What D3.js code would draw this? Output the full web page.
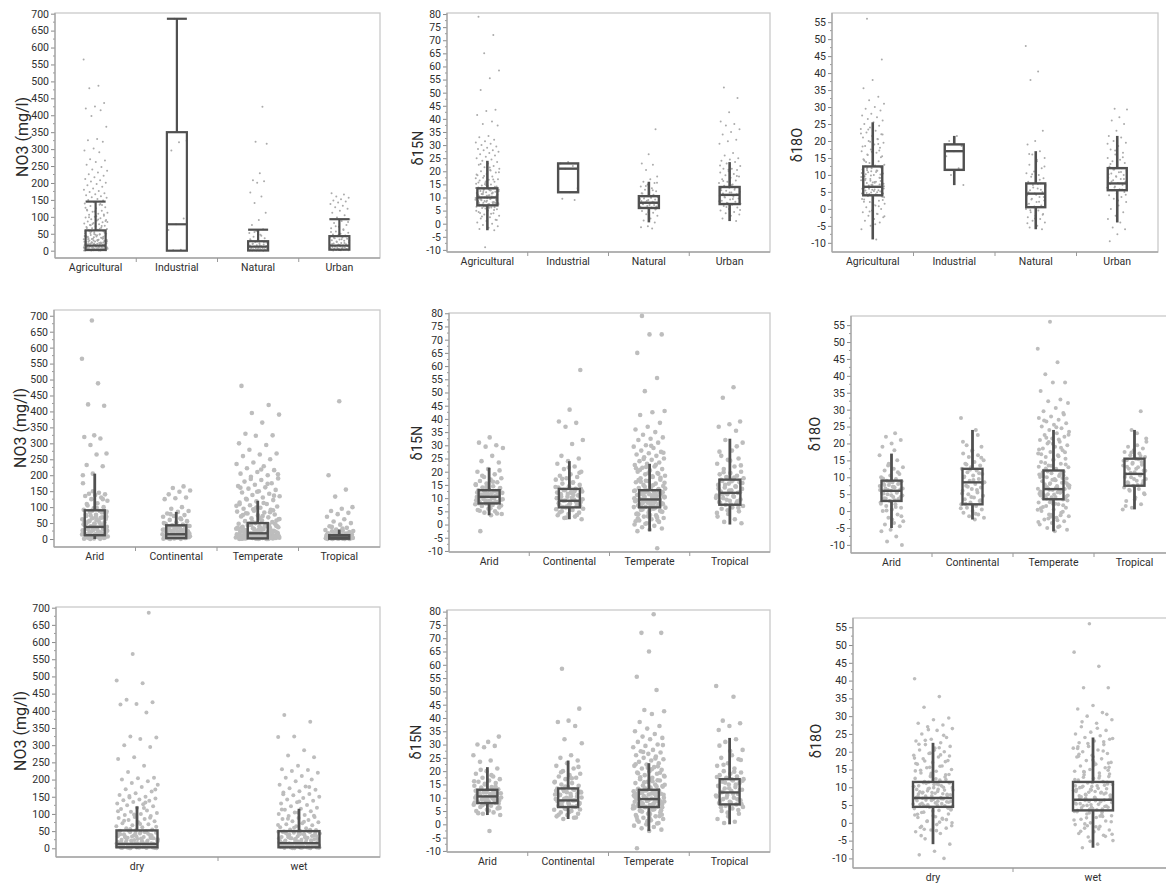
<!DOCTYPE html>
<html>
<head>
<meta charset="utf-8">
<script src="https://cdn.jsdelivr.net/npm/d3@7"></script>
<style>
  body { margin: 0; background: #fff; }
  svg { display: block; }
  text { font-family: Roboto, "Noto Sans", Arial, sans-serif; }
</style>
</head>
<body>
<svg id="chart" width="1166" height="883"></svg>
<script>
// ---- categories ----
const landUse = ["Agricultural", "Industrial", "Natural", "Urban"];
const climate = ["Arid", "Continental", "Temperate", "Tropical"];
const season = ["dry", "wet"];

// ---- y tick labels ----
const no3Ticks = [0, 50, 100, 150, 200, 250, 300, 350, 400, 450, 500, 550, 600, 650, 700];
const d15Ticks = [-10, -5, 0, 5, 10, 15, 20, 25, 30, 35, 40, 45, 50, 55, 60, 65, 70, 75, 80];
const d18Ticks = [-10, -5, 0, 5, 10, 15, 20, 25, 30, 35, 40, 45, 50, 55];

// ---- box statistics: [low whisker, Q1, median, Q3, high whisker] ----
const no3LandBox = [[0, 2, 15, 60, 145], [0, 0, 78, 350, 685], [0, 0.5, 12, 28, 62], [0, 3, 15, 43, 93]];
const d15LandBox = [[-2.5, 7, 10, 13.5, 24], [12, 12, 21, 23, 23], [0.5, 6, 8, 10.5, 16], [1, 7.5, 11, 14, 23.5]];
const d18LandBox = [[-9, 4, 6.5, 12.5, 25.5], [7, 11.5, 17, 19, 21.5], [-6, 0.5, 4.5, 7.5, 17], [-4, 5.5, 7.5, 12, 21.5]];
const no3ClimBox = [[0, 12, 38, 90, 205], [0, 3, 15, 43, 85], [0, 2, 18, 50, 120], [0, 1, 5, 12, 30]];
const d15ClimBox = [[3.5, 8, 10.5, 13, 21.5], [2, 6.5, 9, 13.5, 24], [-2.5, 6.5, 9.5, 13, 23], [0, 7.5, 12, 17, 32.5]];
const d18ClimBox = [[-5, 3, 6, 9, 17], [-2.5, 2, 8.5, 12.5, 24], [-6, 3.5, 6.5, 12, 24], [0.5, 7.5, 11, 15.5, 24]];
const no3SeasBox = [[0, 3, 13, 52, 122], [0, 3, 15, 50, 115]];
const d18SeasBox = [[-6, 4.5, 7, 11.5, 22.5], [-7, 3.5, 6.5, 11.5, 24]];

// ---- observations: NO3 by land use ----
const no3Agri = [565,487,480,436,426,420,415,398,366,330,326,322,302,296,291,270,266,262,254,247,240,236,231,226,221,217,212,208,204,201,197,193,189,184,180,176,173,170,167,164,161,158,156,153,150,148,
143,139,136,132,128,125,121,118,115,112,109,106,103,100,98,96,93,91,89,86,84,82,80,78,76,74,72,70,68,66,64,62,
59.6,57.2,54.3,51.5,48.8,46.2,43.9,41.6,39.4,37.5,35.6,33.8,32.1,30.4,28.9,27.2,25.8,24.5,23.1,21.8,20.6,19.5,18.4,17.2,16.3,15.1,14.2,13.5,12.7,11.8,11.1,10.2,9.4,8.6,7.9,7.1,6.5,5.8,5.2,4.4,3.9,3.3,2.6,2.1,1.5,0.8,0.2,
58.1,52.8,47.1,42.5,38.3,34.7,31.9,29.6,26.7,24.2,21.4,19.1,16.9,14.8,13.1,11.5,9.8,8.2,6.9,5.5,4.8,3.6,2.8,1.9,1.2,0.5,
56.4,50.2,45.5,40.8,35.1,29.9,26.1,22.7,20.2,17.8,14.5,12.3,10.8,9.1,7.5,5.9,4.1,3.1,1.7,0.9,
1.3,2.4,3.7,4.9,6.2,7.4,8.8,10.5,12.1,13.9,15.6,17.4,19.8,22.3,24.9,27.8,30.9,33.2,36.4,39.9,43.2,47.6,51.9,55.1,61,67,73,79,85,92,99,107,116,127,138,
0.4,1.1,2.2,3.4,4.6,6.1,7.7,9.3,11.3,13.3,15.9,18.7,21.1,23.8,27.5,31.2,36.9,41.2,49.5,57.9,65,75,88,102,119,135];
const no3Ind = [685,325,320,296,95,78,61,3,1];
const no3Nat = [425,322,316,229,208,205,201,172,160,141,112,91,76,63,58,52,47,41,37,33,30,28,26,24,22,20,18,16,15,13,12,11,10,9,8,7,6,5,4.5,4,3,2.5,2,1.5,1,0.5,0.3,0,
0.2,0.8,1.6,2.4,3.5,5.5,7.5,9.5,11.5,14,17,21,25,27,34,44,55];
const no3Urb = [170,166,160,156,152,148,145,142,138,133,128,124,118,112,105,98,93,88,82,76,71,66,61,57,53,50,48,45,43,41,39,37,35,33,31,29,27,25,23,21,19,18,16,15,14,13,12,11,10,9,8,7,6,5,4,3,2.5,2,1.5,1,0.5,
3.5,5.5,7.5,9.5,11.5,13.5,16.5,19.5,22.5,26,30,34,38,42,47,55,63,72,85];

// ---- observations: d15N by land use ----
const d15Agri = [79,72,65,58.5,55.5,51,43.5,43,41.5,39,38,37.5,33.5,33,32,31.5,31,30.5,30,29.5,29,28.5,28,28,27.5,27,26.5,26,25.5,25,24.5,24,
23.5,23,22.5,22,21.5,21,20.5,20,19.5,19,18.5,18,17.5,17,16.8,16.5,16,15.5,15.2,15,14.6,14.2,14,13.8,13.5,13.2,13,12.8,12.5,12.2,12,11.8,11.5,11.2,11,10.8,10.5,10.2,10,9.8,9.5,9.2,9,8.8,8.5,8.2,8,7.8,7.5,7.2,7,6.8,6.5,6.2,6,5.5,5,4.5,4,3.5,3,2.5,2,1.5,1,0.5,0,-0.5,-1,-1.5,-2,-2.5,-9,
13.6,12.7,11.3,10.6,9.7,8.6,7.6,6.6,12.4,10.9,9.3,8.1,14.8,11.7,9.9,7.3,
7.1,7.4,7.9,8.3,8.7,9.1,9.4,9.9,10.3,10.7,11.1,11.6,12.1,12.6,13.1,13.4,6.3,5.8,4.9,3.8,2.7,1.4,14.5,15.7,16.9,18.2,19.6,21.4,22.8,
7.6,8.4,9.6,10.4,11.4,12.3,13.3,6.9,5.2,15.1,17.3,20.3,8.9,9.2,10.1,10.9,11.9,12.9,7.3,6.1,4.1,14.1,16.1,18.8];
const d15Ind = [23.5,23,22,21,13.5,12,9.5,9];
const d15Nat = [36,26.5,23,22.5,20.5,18,17,16,15.5,15,14.2,13.5,13,12.4,12,11.5,11,10.6,10.2,10,9.6,9.2,9,8.7,8.4,8.1,8,7.7,7.4,7.1,6.8,6.5,6.2,6,5.6,5.2,4.8,4.2,3.6,3,2,1.2,0.5,-1,-1.4,-1.8,
6.1,6.6,7.1,7.6,8.2,8.8,9.4,9.9,10.4,5.4,4.4,11.6,12.8,14.4,15.6];
const d15Urb = [52,48,42.5,39,38,37.5,36,35,34,32,31.5,30.5,27,26,25,24.5,24,23.5,23,22,21,21,20.5,20,19.5,19,18.5,18,17.5,17,16.5,16,15.5,15,14.5,14,13.7,13.4,13,12.6,12.2,11.9,11.5,11.2,11,10.7,10.3,10,9.6,9.2,8.8,8.4,8,7.6,7.2,6.8,6.2,5.6,5,4.5,4,3.5,3,2,1,
7.8,8.6,9.4,10.2,11.1,11.9,12.8,13.6,6.4,5.2,14.8,16.3,18.2,20.6,22.2];

// ---- observations: d18O by land use ----
const d18Agri = [56,44,38,35.5,33,32,31,30,29.5,29,28,27.5,27,26.5,26,25.5,25,24.5,24,23.5,23,22.5,22,21.5,21,20.5,20,19.5,19,18.5,18,17.5,17,16.5,16,15.5,15,14.5,14,13.5,13,12.8,12.5,12.2,12,11.6,11.2,10.8,10.4,10,9.6,9.2,8.8,8.4,8,7.6,7.3,7,6.8,6.5,6.2,6,5.7,5.4,5.1,4.8,4.5,4.2,4,3.6,3.2,2.8,2.4,2,1.5,1,0.5,0,-0.5,-1,-1.5,-2,-2.5,-3,-3.5,-4,-5,-6,-9,
11.4,9.4,7.8,6.6,5.5,4.4,3.4,12.6,10.2,8.2,7.1,5.9,4.9,3.8,2.6,1.2,14.2,17.2,19.8,22.2,
4.3,4.7,5.2,5.6,6.1,6.4,6.9,7.4,7.9,8.5,9.1,9.8,10.6,11.3,12.1,12.4,3.2,2.1,0.8,-0.8,-2.2,-4.5,13.8,15.2,16.8,18.4,20.6,23.4,
4.5,5.3,6.3,7.2,8.3,9.4,10.9,11.8,3.7,1.9,14.6,19.1,5.9,6.7,7.7,8.9,10.1,11.1,2.9,-1.4,15.9,21.9];
const d18Ind = [21.5,20,18.5,17,15.5,12,10,7];
const d18Nat = [48,40.5,38,23,20,19,17,16,15,14,13,12,11,10.5,10,9.5,9,8.5,8,7.5,7,6.5,6,5.5,5,4.5,4,3.5,3,2.5,2,1.5,1,0.5,0,-0.5,-1,-1.5,-2,-2.5,-3,-3.5,-4,-5,-5.5,-6,
0.7,1.4,2.1,2.8,3.5,4.2,4.9,5.6,6.3,7,7.3,-0.4,-1.7,-2.8,-4.2,8.6,10.2,12.5,14.5,16.2];
const d18Urb = [29.5,29.3,27,26,25,23,21.5,21,20,19.5,18.5,17.5,16.5,16,15,14.5,14,13.5,13,12.5,12,11.6,11.2,10.8,10.4,10,9.6,9.2,8.8,8.4,8,7.6,7.3,7,6.6,6.2,5.8,5.5,5,4.5,4,3.5,3,2,1,0,-1,-2,-3,-4,-5.5,-6,-7.5,-9.5,
5.7,6.3,6.9,7.5,8.1,8.8,9.5,10.2,10.9,11.6,4.2,2.5,13.2,15.2,17.2,19.2];

// ---- observations: NO3 by climate ----
const no3Arid = [685,565,488,422,418,325,320,315,295,268,265,232,228,205,200,145,142,140,138,135,130,125,120,112,105,100,96,92,88,85,80,76,72,68,65,62,58,55,52,48,45,42,40,38,36,34,31,28,25,22,20,18,15,13,12,10,8,6,4,3,2,1,0.5,0,70,60,50,44,35,27,17,9,5,
13,16,19,23,26,29,33,37,41,46,51,57,63,69,76,83,89,14.5,21,31,39,48,55,66,74,86,98,110,125,150,175];
const no3Cont = [165,160,152,148,140,130,128,125,100,95,88,85,80,75,72,70,65,60,56,52,48,45,43,41,39,37,35,32,30,28,26,24,22,20,18,16,15,14,12,11,10,9,8,7,6,5,4,3,2,1,0.5,0,40,34,25,19,13,8.5,4.5,2.5,
3.5,5.5,7.5,9.5,11.5,13.5,16.5,19.5,22.5,25.5,29,33,38,42,4.2,6.2,10.2,14.2,17.2,21.2,27.2,31.2,36.2,50,62,78];
const no3Temp = [480,420,395,390,365,330,325,324,300,295,280,268,265,260,250,240,235,228,222,216,210,205,200,195,190,185,180,175,170,166,162,158,154,150,146,142,138,134,130,126,122,118,114,110,106,102,98,95,92,89,86,83,80,77,74,71,68,65,62,59,56,53,50,48,46,44,42,40,38,36,34,32,30,28,26,24,22,20,18,17,16,15,14,13,12,11,10,9,8,7,6,5,4,3,2,1.5,1,0.5,0,
47,41,35,29,23,19,14.5,10.5,7.5,4.5,2.5,1.2,0.3,44,37,31,25,21,16.5,12.5,9.5,6.5,3.5,0.8,
1.1,2.3,3.6,4.9,6.2,7.8,9.2,10.9,12.8,14.7,16.9,19.3,21.8,24.6,27.7,31.1,34.9,39.2,43.8,48.1,
0.6,1.8,3.1,5.6,8.6,11.8,15.4,20.4,25.9,32.6,40.4,49.2,58,66,75,84,93,104,113,124,136,148,161,173,188,203,218,
2.8,4.2,7.1,10.2,13.6,17.8,22.9,28.8,36.1,45.3,55,63,72,81,90,99,109];
const no3Trop = [432,200,155,133,100,95,88,82,78,70,62,55,50,45,40,35,30,28,26,24,22,20,18,16,15,14,13,12,11,10,9,8,7,6,5,4.5,4,3.5,3,2.5,2,1.5,1,0.5,0,11.5,9.5,7.5,6.5,5.5,3.2,2.2,1.2,0.3,
0.6,1.6,2.6,3.6,4.6,5.6,6.6,7.6,8.6,10.6,12.5,0.9,1.9,2.9,3.9,4.9,17,21,25,33,38];

// ---- observations: d15N by climate ----
const d15Arid = [33,31,30,29.5,29,26,24,23.5,21,20,19,18,17.5,17,16.5,16,15.5,15,14.5,14,13.5,13.2,13,12.7,12.4,12,11.7,11.4,11,10.7,10.4,10,9.7,9.4,9,8.7,8.4,8,7.7,7.4,7,6.5,6,5.5,5,4.5,4,3.5,-2.5,12.2,10.8,9.2,8.2,11.2,13.8,7.8,
8.1,8.6,9.1,9.6,10.1,10.6,11.1,11.6,12.1,12.6,12.9,7.2,6.2,5.2,4.2,14.2,15.2,16.2,18.5,20.5,8.9,9.9,10.9,11.9];
const d15Cont = [58.5,43.5,39,38.5,37,32,30.5,26,25,24,23,22,21,20,19,18.5,18,17.5,17,16,15.5,15,14.5,14,13.5,13,12.5,12,11.5,11,10.5,10,9.5,9,8.5,8,7.5,7,6.5,6,5.5,5,4.5,4,3.5,3,2.5,2,12.2,9.8,8.2,6.8,5.8,11.2,
6.6,7.1,7.6,8.1,8.6,9.1,9.6,10.1,10.6,11.1,11.6,12.1,12.6,13.1,13.4,5.6,4.6,3.6,2.6,14.2,15.8,17.3,19.6,21.6];
const d15Temp = [79,72,72,65,55.5,50.5,43,42.5,41.5,38.5,37,36,35,34,33,32.5,32,31,30,29.5,29,28,27.5,27,26.5,26,25.5,25,24.5,24,23.5,23,22.5,22,21.5,21,20.5,20,19.5,19,18.5,18,17.5,17,16.5,16,15.5,15,14.6,14.2,13.8,13.4,13,12.7,12.4,12.1,11.8,11.5,11.2,10.9,10.6,10.3,10,9.7,9.4,9.1,8.8,8.5,8.2,7.9,7.6,7.3,7,6.7,6.4,6,5.5,5,4.5,4,3.5,3,2.5,2,1.5,1,0.5,0,-0.5,-1,-1.5,-2,-2.5,-9,
12.2,10.4,8.6,6.9,5.2,3.1,1.2,11.6,9.4,7.7,14.4,16.8,19.2,21.8,
6.6,7.1,7.6,8.1,8.6,9.1,9.6,10.1,10.6,11.1,11.6,12.1,12.6,12.9,6.2,5.7,4.8,3.6,2.4,1.6,0.3,13.6,14.9,16.2,17.7,19.4,21.3,22.6,24.8,27.2,29.8,
6.9,7.8,8.9,9.9,10.8,11.9,12.4,5.3,4.2,2.8,14.3,15.8,18.3,20.7,7.4,8.3,9.3,10.4,11.4,12.2,6.4,3.9,13.1,16.6];
const d15Trop = [52,48,39,38,37,35.5,32,31,28,26,25,24.5,23,22,21,20,19.5,19,18.5,18,17.5,17,16.5,16,15.5,15,14.5,14,13.5,13,12.5,12,11.5,11,10.5,10,9.5,9,8.5,8,7.5,7,6.5,6,5,4,3,2,1,0.5,
7.6,8.2,8.8,9.4,10.1,10.8,11.5,12.2,12.9,13.6,14.3,15,15.7,16.4,16.9,6.4,5.4,4.4,17.8,19.8,22.4,24.2,27.6,29.6];

// ---- observations: d18O by climate ----
const d18Arid = [23,22,21,20,19,15,13.5,13,12.5,12,11,10.5,10,9.5,9,8.8,8.5,8.2,8,7.7,7.4,7,6.7,6.4,6,5.7,5.4,5,4.6,4.2,3.8,3.4,3,2.5,2,1.5,1,0.5,0,-1,-2,-3,-3.5,-4,-4.5,-5.5,-6,-7.5,-9,-10,7.2,5.2,3.6,8.6,6.2,
3.2,3.7,4.2,4.7,5.2,5.7,6.2,6.7,7.2,7.7,8.2,8.7,2.2,1.2,0.2,-1.5,-2.5,9.6,11.5,14,16.5,18];
const d18Cont = [27.5,24,19.5,19,18,17,16.5,16,15,14.5,14,13.5,13,12.5,12,11.5,11,10.5,10,9.5,9,8.5,8,7.5,7,6.5,6,5.5,5,4.5,4,3.5,3,2.5,2,1.5,1,0.5,0,-0.5,-1,-1.5,-2,-2.5,
2.2,3.2,4.2,5.2,6.2,7.2,8.2,9.2,10.2,11.2,12.2,0.8,-0.8,13.8,15.8,17.8,20.5,22.5];
const d18Temp = [56,48,44,40.5,38,38,35.5,33,32.5,32,30.5,29.5,29,28,27.5,27,26.5,26,25.5,25,24.5,24,23.5,23,22.5,22,21.5,21,20.5,20,19.5,19,18.5,18,17.5,17,16.5,16,15.5,15,14.5,14,13.5,13,12.5,12,11.6,11.2,10.8,10.4,10,9.6,9.2,8.8,8.4,8,7.6,7.2,6.8,6.5,6.2,5.8,5.4,5,4.6,4.2,3.8,3.4,3,2.5,2,1.5,1,0.5,0,-0.5,-1,-1.5,-2,-2.5,-3,-3.5,-4,-4.5,-5,-5.5,-6,
11.4,9.8,8.2,6.6,5.6,4.4,3.6,2.2,0.8,-1.2,-2.2,7.8,6.9,4.9,10.6,13.4,18.2,21.2,
3.7,4.3,4.9,5.3,5.9,6.3,6.9,7.4,7.9,8.6,9.3,10.1,10.9,11.7,3.1,2.2,1.2,-0.2,-1.7,-3.2,-4.7,12.6,13.8,15.3,16.8,18.7,20.4,22.6,24.8,26.8,28.6,
4.1,5.1,6.1,7.1,8.2,9.5,10.6,11.4,2.6,0.4,-2.7,14.2,17.4,19.9,4.6,5.6,6.7,7.6,9.1,10.3,1.7,-1.1,13.1,16.2,21.7];
const d18Trop = [29.5,24,20.5,19.5,19,18.5,18,17.5,17,16.5,16,15.5,15,14.5,14,13.5,13,12.5,12,11.5,11,10.5,10,9.5,9,8.5,8,7.5,7,6.5,6,5,4,3,2,1,0.5,
7.7,8.3,8.9,9.5,10.1,10.7,11.3,11.9,12.5,13.1,13.7,14.3,14.9,15.3,6.3,5.3,3.5,1.5,16.3,17.3,21.5,23];

// ---- observations: NO3 by season ----
const no3Dry = [685,565,488,480,432,425,420,418,395,325,322,318,300,295,265,260,240,222,205,204,200,195,190,185,178,172,165,160,155,150,148,145,142,140,138,135,130,128,125,122,118,114,110,106,103,100,97,94,91,88,85,82,79,76,73,70,67,64,61,58,55,53,51,49,47,45,43,41,39,37,35,33,31,29,27,25,23,21,19,17,16,15,14,13,12,11,10,9,8,7,6,5,4,3,2.5,2,1.5,1,0.5,0,
46,38,30,24,18,13.5,9.5,6.5,3.5,1.2,42,34,26,20,15.5,11.5,7.5,4.5,2.2,0.3,
1.4,2.6,3.8,5.1,6.4,7.9,9.6,11.4,13.2,15.3,17.6,20.1,22.7,25.6,28.6,31.9,35.4,39.1,42.9,46.9,50.8,
0.7,2.1,4.4,7.2,10.3,14.1,18.4,23.4,28.9,34.9,40.9,47.4,56,63,71,80,89,98,108,117,
1.9,3.3,5.8,8.6,12.3,16.3,21.3,26.3,32.3,38.3,44.3,50.3,133,152,171];
const no3Wet = [388,368,325,324,285,270,265,240,230,228,225,220,210,205,200,195,185,180,175,170,166,162,158,154,150,146,142,138,134,130,126,122,118,115,112,108,104,100,97,94,91,88,85,82,79,76,73,70,67,64,61,58,55,53,51,49,47,45,43,41,39,37,35,33,31,29,27,25,23,21,19,17,16,15,14,13,12,11,10,9,8,7,6,5,4,3,2.5,2,1.5,1,0.5,0,
48,40,32,26,20,15.5,10.5,7.5,4.5,1.8,44,36,28,22,17.5,12.5,8.5,5.5,3.2,0.6,
1.2,2.4,3.7,5.2,6.6,8.1,9.8,11.7,13.6,15.8,18.1,20.6,23.3,26.1,29.1,32.4,35.9,39.6,43.4,47.3,49.9,
0.4,1.9,4.1,6.9,10.2,13.9,18.6,23.9,29.6,35.6,41.6,47.9,54,60,68,77,86,95,104,113,
2.1,3.1,5.6,8.9,12.6,16.6,21.6,27.1,33.1,39.1,45.1,136,157,178];

// ---- observations: d18O by season ----
const d18Dry = [40.5,35.5,32.5,29.5,29,28,27.5,27,26.5,26,25,24,23.5,23,22.5,22,21.5,21,20.5,20,19.5,19,18.5,18,17.5,17,16.5,16,15.5,15,14.5,14,13.5,13,12.5,12,11.6,11.2,10.8,10.4,10,9.6,9.2,8.8,8.4,8,7.6,7.2,6.8,6.4,6,5.6,5.2,4.8,4.4,4,3.5,3,2.5,2,1.5,1,0.5,0,-0.5,-1,-1.5,-2,-2.5,-3,-4.5,-6,-8,-9,-10,
11.4,10.2,9.4,8.6,7.8,7,6.2,5.4,4.6,3.8,12.4,14.8,17.2,19.6,2.2,0.2,-1.8,13.6,9.9,8.1,6.7,5.1,
4.7,5.1,5.5,5.9,6.3,6.7,7.1,7.5,7.9,8.3,8.7,9.2,9.7,10.2,10.7,11.3,4.1,3.3,2.4,1.3,0.4,-0.8,-2.2,-3.6,12.2,13.3,14.6,15.9,17.4,18.8,20.4,22.1,24.6,26.2,
5.3,6.1,6.9,7.7,8.5,9.4,10.4,11.1,3.6,1.7,-1.3,12.9,15.6,18.2,21.1,4.9,5.8,6.6,7.4,8.2,9,9.9,10.9,2.9,0.9,13.9,16.7,19.1,23.2];
const d18Wet = [56,48,44,38,38,33,32,31,30,29,28,27,26,25.5,25,24.5,24,23.5,23,22.5,22,21.5,21,20.5,20,19.5,19,18.5,18,17.5,17,16.5,16,15.5,15,14.5,14,13.5,13,12.5,12,11.6,11.2,10.8,10.4,10,9.6,9.2,8.8,8.4,8,7.6,7.2,6.8,6.4,6,5.6,5.2,4.8,4.4,4,3.5,3,2.5,2,1.5,1,0.5,0,-0.5,-1,-1.5,-2,-2.5,-3,-3.5,-4,-5,-6,-7,
11.4,10.2,9.4,8.6,7.8,7,6.2,5.4,4.6,3.8,3.2,12.6,14.4,16.8,18.6,21.4,1.8,-0.8,-3.2,
3.7,4.2,4.7,5.1,5.5,5.9,6.3,6.7,7.1,7.6,8.1,8.6,9.1,9.7,10.3,10.9,11.3,3.1,2.3,1.4,0.3,-1.1,-2.4,-3.8,-5.2,12.2,13.2,14.3,15.6,17.1,18.7,20.2,22.3,23.7,26.6,28.4,30.5,
4.4,5.3,6.1,6.9,7.8,8.8,9.9,10.6,2.8,0.8,-1.7,12.8,14.8,17.7,20.9,3.9,4.9,5.7,6.5,7.3,8.4,9.4,10.4,1.9,-0.3,13.7,16.3,19.3,22.8];

// ---- panel layout (3 x 3 grid) ----
const panels = [
  { cats: landUse, box: no3LandBox, pts: [no3Agri, no3Ind, no3Nat, no3Urb], ticks: no3Ticks, title: "NO3 (mg/l)",
    x0: 55, x1: 380, y0: 13, y1: 258, dom: [-21.6, 702], tx: 22, ty: 137, ts: 16,
    r: 1.0, bw: 20, jit: [12, 10, 9, 10], caps: true, sw: 2.2, ww: 2.2, dot: "#ababab" },
  { cats: landUse, box: d15LandBox, pts: [d15Agri, d15Ind, d15Nat, d15Urb], ticks: d15Ticks, title: "δ15N",
    x0: 447, x1: 770, y0: 13, y1: 252, dom: [-10.8, 80.4], tx: 418, ty: 148, ts: 14.5,
    r: 1.0, bw: 20, jit: [12, 10, 9, 11], caps: false, sw: 2.4, ww: 2.6, dot: "#ababab" },
  { cats: landUse, box: d18LandBox, pts: [d18Agri, d18Ind, d18Nat, d18Urb], ticks: d18Ticks, title: "δ18O",
    x0: 832, x1: 1158, y0: 13, y1: 252, dom: [-12.7, 57.7], tx: 797, ty: 145, ts: 14.5,
    r: 1.0, bw: 19, jit: [12, 10, 10, 10], caps: false, sw: 2.4, ww: 2.6, dot: "#ababab" },
  { cats: climate, box: no3ClimBox, pts: [no3Arid, no3Cont, no3Temp, no3Trop], ticks: no3Ticks, title: "NO3 (mg/l)",
    x0: 54, x1: 380, y0: 310, y1: 547, dom: [-25, 718], tx: 20, ty: 428, ts: 16,
    r: 2.3, bw: 20, jit: [13, 14, 22, 14], caps: false, sw: 2.4, ww: 2.8, dot: "#bdbdbd" },
  { cats: climate, box: d15ClimBox, pts: [d15Arid, d15Cont, d15Temp, d15Trop], ticks: d15Ticks, title: "δ15N",
    x0: 449, x1: 770, y0: 313, y1: 552, dom: [-10.4, 80.1], tx: 417, ty: 443, ts: 14.5,
    r: 2.3, bw: 21, jit: [14, 14, 16, 14], caps: false, sw: 2.4, ww: 2.8, dot: "#bdbdbd" },
  { cats: climate, box: d18ClimBox, pts: [d18Arid, d18Cont, d18Temp, d18Trop], ticks: d18Ticks, title: "δ18O",
    x0: 851, x1: 1175, y0: 316, y1: 553, dom: [-12.4, 57.7], tx: 815, ty: 434, ts: 14.5,
    r: 2.0, bw: 20, jit: [12, 12, 16, 12], caps: false, sw: 2.4, ww: 2.8, dot: "#bdbdbd" },
  { cats: season, box: no3SeasBox, pts: [no3Dry, no3Wet], ticks: no3Ticks, title: "NO3 (mg/l)",
    x0: 56, x1: 380, y0: 607, y1: 857, dom: [-25.3, 702], tx: 20, ty: 731, ts: 16,
    r: 2.0, bw: 41, jit: [21, 21], caps: false, sw: 2.4, ww: 2.8, dot: "#bdbdbd" },
  { cats: climate, box: d15ClimBox, pts: [d15Arid, d15Cont, d15Temp, d15Trop], ticks: d15Ticks, title: "δ15N",
    x0: 447, x1: 770, y0: 610, y1: 852, dom: [-10.4, 80.6], tx: 416, ty: 742, ts: 14.5,
    r: 2.3, bw: 20, jit: [14, 14, 16, 14], caps: false, sw: 2.4, ww: 2.8, dot: "#bdbdbd" },
  { cats: season, box: d18SeasBox, pts: [d18Dry, d18Wet], ticks: d18Ticks, title: "δ18O",
    x0: 853, x1: 1173, y0: 618, y1: 868, dom: [-12.7, 57.6], tx: 816, ty: 741, ts: 14.5,
    r: 1.8, bw: 40, jit: [20, 20], caps: false, sw: 2.4, ww: 2.8, dot: "#bdbdbd" }
];

const svg = d3.select("#chart");
const boxColor = "#505050";
const GOLD = 0.6180339887;

function drawPanel(p, pi) {
  const g = svg.append("g");
  const x = d3.scaleBand().domain(p.cats).range([p.x0, p.x1]);
  const y = d3.scaleLinear().domain(p.dom).range([p.y1, p.y0]);

  // plot frame
  g.append("rect")
    .attr("x", p.x0).attr("y", p.y0)
    .attr("width", p.x1 - p.x0).attr("height", p.y1 - p.y0)
    .attr("fill", "none").attr("stroke", "#cacaca").attr("stroke-width", 1.3);

  // y axis with labels
  const step = p.ticks[1] - p.ticks[0];
  const yAxis = d3.axisLeft(y).tickValues(p.ticks).tickSize(4).tickPadding(2)
    .tickFormat(d => String(d));
  const ya = g.append("g").attr("transform", `translate(${p.x0},0)`).call(yAxis);
  ya.select(".domain").remove();
  ya.selectAll(".tick line").attr("stroke", "#8a8a8a");
  ya.selectAll(".tick text").attr("fill", "#2e2e2e").style("font-size", "10.5px")
    .style("font-family", "Roboto, 'Noto Sans', Arial, sans-serif");

  // minor ticks at midpoints
  const minor = p.ticks.slice(0, -1).map(t => t + step / 2)
    .filter(v => v >= p.dom[0] && v <= p.dom[1]);
  g.selectAll(null).data(minor).join("line")
    .attr("x1", p.x0 - 2).attr("x2", p.x0)
    .attr("y1", d => y(d)).attr("y2", d => y(d))
    .attr("stroke", "#9a9a9a").attr("stroke-width", 1);

  // axis lines
  g.append("line").attr("x1", p.x0).attr("x2", p.x0).attr("y1", p.y0).attr("y2", p.y1)
    .attr("stroke", "#a6a6a6").attr("stroke-width", 1.3);
  g.append("line").attr("x1", p.x0).attr("x2", p.x1).attr("y1", p.y1).attr("y2", p.y1)
    .attr("stroke", "#a6a6a6").attr("stroke-width", 1.3);

  // category separators and labels
  g.selectAll(null).data(p.cats.slice(1)).join("line")
    .attr("x1", d => x(d)).attr("x2", d => x(d))
    .attr("y1", p.y1).attr("y2", p.y1 + 4)
    .attr("stroke", "#9a9a9a");
  g.selectAll(null).data(p.cats).join("text")
    .attr("x", d => x(d) + x.bandwidth() / 2)
    .attr("y", p.y1 + 13)
    .attr("text-anchor", "middle")
    .attr("fill", "#2e2e2e")
    .style("font-size", "10.5px")
    .text(d => d);

  // axis title
  g.append("text")
    .attr("transform", `translate(${p.tx},${p.ty}) rotate(-90)`)
    .attr("text-anchor", "middle")
    .attr("dominant-baseline", "central")
    .attr("fill", "#2a2a2a")
    .style("font-size", p.ts + "px")
    .text(p.title);

  // jittered observations
  p.cats.forEach((c, i) => {
    const cx = x(c) + x.bandwidth() / 2;
    const off = (i * 0.37 + pi * 0.13) % 1;
    g.selectAll(null).data(p.pts[i]).join("circle")
      .attr("cx", (d, j) => cx + (((j * GOLD + off) % 1) * 2 - 1) * p.jit[i])
      .attr("cy", d => y(d))
      .attr("r", p.r)
      .attr("fill", p.dot);
  });

  // box plots
  p.cats.forEach((c, i) => {
    const [lo, q1, med, q3, hi] = p.box[i];
    const cx = x(c) + x.bandwidth() / 2;
    const bx = g.append("g").attr("stroke", boxColor).attr("fill", "none");
    if (hi > q3) {
      bx.append("line").attr("x1", cx).attr("x2", cx).attr("y1", y(q3)).attr("y2", y(hi))
        .attr("stroke-width", p.ww);
      if (p.caps) bx.append("line").attr("x1", cx - p.bw / 2).attr("x2", cx + p.bw / 2)
        .attr("y1", y(hi)).attr("y2", y(hi)).attr("stroke-width", p.ww);
    }
    if (lo < q1) {
      bx.append("line").attr("x1", cx).attr("x2", cx).attr("y1", y(q1)).attr("y2", y(lo))
        .attr("stroke-width", p.ww);
    }
    bx.append("rect")
      .attr("x", cx - p.bw / 2).attr("y", y(q3))
      .attr("width", p.bw).attr("height", Math.max(0, y(q1) - y(q3)))
      .attr("stroke-width", p.sw);
    bx.append("line").attr("x1", cx - p.bw / 2).attr("x2", cx + p.bw / 2)
      .attr("y1", y(med)).attr("y2", y(med)).attr("stroke-width", p.sw);
  });
}

panels.forEach(drawPanel);
</script>
</body>
</html>
